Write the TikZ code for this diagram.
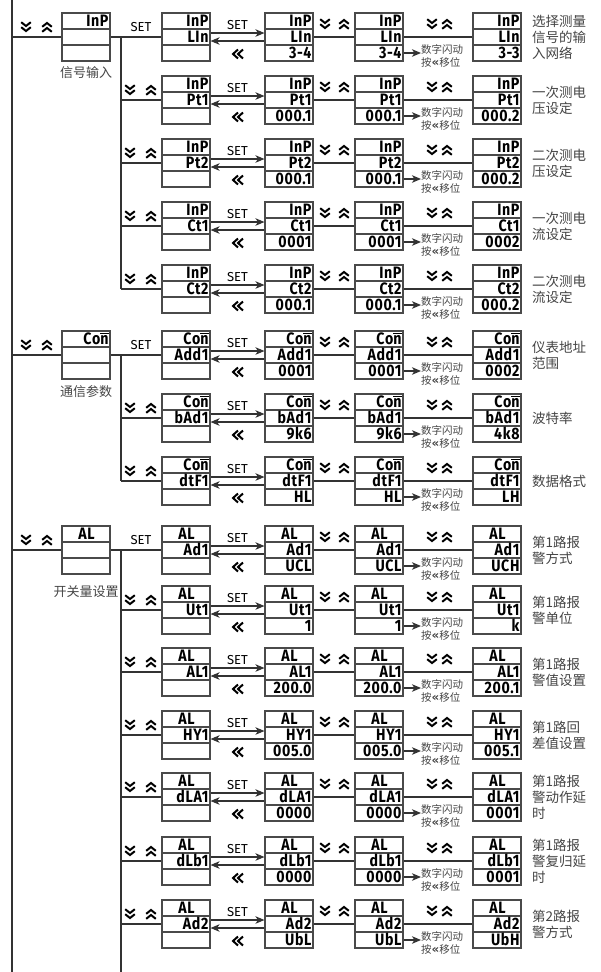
\documentclass[tikz,border=0pt]{standalone}
\usepackage{fontspec}
\setmainfont{Fira Sans}
\newfontfamily\cjk{Noto Sans CJK SC}
\newfontfamily\djv{DejaVu Sans}
\newfontfamily\segfont[FakeStretch=0.86,LetterSpace=4]{Fira Sans}
\usetikzlibrary{arrows.meta}
\definecolor{boxgray}{HTML}{4A4A4A}
\definecolor{linegray}{HTML}{333333}
\definecolor{txtgray}{HTML}{444444}
\newcommand\mbarn{\mbox{\setbox0\hbox{n}\rlap{\raisebox{\dimexpr\ht0+1.4pt\relax}{\rule{\wd0}{1.5pt}}}\box0}}
\newcommand\ALtxt{\makebox[44pt]{AL}}
\tikzset{
  cell/.style={draw=boxgray, line width=1.1pt, fill=white, minimum width=48pt, minimum height=16pt,
    inner sep=0pt, text width=45pt, align=right, text height=11.5pt, text depth=0pt,
    font=\segfont\bfseries\fontsize{16.5}{16}\selectfont},
  conn/.style={draw=linegray, line width=1.1pt},
  tip/.style={-{Stealth[length=9pt,width=7.5pt,inset=2.5pt]}},
  chev/.style={draw=black, line width=2pt, line cap=butt, line join=miter},
  dchev/.pic={\draw[chev] (-4.8,-4.8)--(0,-1)--(4.8,-4.8) (-4.8,0.2)--(0,4)--(4.8,0.2);},
  uchev/.pic={\draw[chev] (-4.8,4.8)--(0,1)--(4.8,4.8) (-4.8,-0.2)--(0,-4)--(4.8,-0.2);},
  lchev/.pic={\draw[chev] (0.5,-4.5)--(-4.5,0)--(0.5,4.5) (5.5,-4.5)--(0.5,0)--(5.5,4.5);},
  setlbl/.style={inner sep=0pt, font=\fontsize{13}{14}\selectfont, text=black},
  hint/.style={anchor=west, align=left, inner sep=0pt, text=txtgray, font=\cjk\fontsize{10.5}{13}\selectfont},
  lbl/.style={anchor=west, align=left, inner sep=0pt, text=txtgray, font=\cjk\fontsize{13.5}{16}\selectfont},
  glbl/.style={inner sep=0pt, text=txtgray, font=\cjk\fontsize{13}{16}\selectfont},
}
% one display: name, centre x, top y, three texts
\newcommand\lcd[6]{%
  \node[cell] (#1a) at (#2,#3+8) {#4};
  \node[cell] (#1b) at (#2,#3+24) {#5};
  \node[cell] (#1c) at (#2,#3+40) {#6};}
% left part of a sub row
\newcommand\lset[2]{\node[setlbl] (#2lset) at (141,#1+14) {SET};}
\newcommand\lchv[2]{%
  \pic at (130,#1+14) {dchev}; \pic at (151,#1+14) {uchev};
  \draw[conn] (#2j) -- (#2pb.west);}
% sub row: id, top, head, code, value, new value, label, left part
\newcommand\subrow[8]{%
  \lcd{#1p}{186}{#2}{#3}{#4}{}
  \lcd{#1q}{289}{#2}{#3}{#4}{#5}
  \lcd{#1r}{379}{#2}{#3}{#4}{#5}
  \lcd{#1s}{497}{#2}{#3}{#4}{#6}
  \coordinate (#1j) at (121,#2+24);
  #8{#2}{#1}
  \draw[conn,tip] ([yshift=4pt]#1pb.east) -- ([yshift=4pt]#1qb.west);
  \draw[conn,tip] ([yshift=-4pt]#1qb.west) -- ([yshift=-4pt]#1pb.east);
  \node[setlbl] (#1set) at (237.5,#2+12) {SET};
  \pic at (237.5,#2+41) {lchev};
  \draw[conn] (#1qb.east) -- (#1rb.west);
  \pic at (325,#2+11) {dchev}; \pic at (344,#2+11) {uchev};
  \draw[conn] (#1rb.east) -- (#1sb.west);
  \pic at (432,#2+11) {dchev}; \pic at (447,#2+11) {uchev};
  \node[hint] (#1hint) at (421,#2+42.5) {数字闪动\\按{\djv\bfseries\fontsize{12}{13}\selectfont «}移位};
  \draw[conn,tip] (#1rc.east) -- (#1rc.east -| #1hint.west);
  \node[lbl] (#1lbl) at (532,#2+24) {#7};
}
% top level: id, top, head, label, label y
\newcommand\group[5]{%
  \lcd{#1}{86}{#2}{#3}{}{}
  \pic at (26,#2+14) {dchev}; \pic at (47,#2+14) {uchev};
  \coordinate (#1m) at (12,#2+24);
  \draw[conn] (#1m) -- (#1b.west);
  \node[glbl] (#1lbl) at (86,#5) {#4};
}
\begin{document}
\begin{tikzpicture}[x=1pt,y=-1pt]
\useasboundingbox (0,0) rectangle (600,972);
\coordinate (mtop) at (12,0);
\coordinate (mbot) at (12,972);
\draw[conn] (mtop) -- (mbot);

% ---------- signal input
\group{gi}{13}{InP}{信号输入}{72.5}
\subrow{ia}{13}{InP}{LIn}{3-4}{3-3}{选择测量\\信号的输\\入网络}{\lset}
\subrow{ib}{76}{InP}{Pt1}{000.1}{000.2}{一次测电\\压设定}{\lchv}
\subrow{ic}{139}{InP}{Pt2}{000.1}{000.2}{二次测电\\压设定}{\lchv}
\subrow{id}{202}{InP}{Ct1}{0001}{0002}{一次测电\\流设定}{\lchv}
\subrow{ie}{265}{InP}{Ct2}{000.1}{000.2}{二次测电\\流设定}{\lchv}
\draw[conn] (gib.east) -- (iapb.west);
\draw[conn] (iaj) -- (iej);

% ---------- communication
\group{gc}{331}{Co\mbarn}{通信参数}{391.5}
\subrow{ca}{331}{Co\mbarn}{Add1}{0001}{0002}{仪表地址\\范围}{\lset}
\subrow{cb}{394}{Co\mbarn}{bAd1}{9k6}{4k8}{波特率}{\lchv}
\subrow{cc}{457}{Co\mbarn}{dtF1}{HL}{LH}{数据格式}{\lchv}
\draw[conn] (gcb.east) -- (capb.west);
\draw[conn] (caj) -- (ccj);

% ---------- alarm
\group{ga}{526}{\ALtxt}{开关量设置}{592}
\subrow{aa}{526}{\ALtxt}{Ad1}{UCL}{UCH}{第1路报\\警方式}{\lset}
\subrow{ab}{586}{\ALtxt}{Ut1}{1\hspace{16pt}}{k\hspace{8pt}}{第1路报\\警单位}{\lchv}
\subrow{ac}{648}{\ALtxt}{AL1}{200.0}{200.1}{第1路报\\警值设置}{\lchv}
\subrow{ad}{711}{\ALtxt}{HY1}{005.0}{005.1}{第1路回\\差值设置}{\lchv}
\subrow{ae}{773}{\ALtxt}{dLA1}{0000}{0001}{第1路报\\警动作延\\时}{\lchv}
\subrow{af}{837}{\ALtxt}{dLb1}{0000}{0001}{第1路报\\警复归延\\时}{\lchv}
\subrow{ag}{900}{\ALtxt}{Ad2}{UbL}{UbH}{第2路报\\警方式}{\lchv}
\coordinate (abot) at (121,972);
\draw[conn] (gab.east) -- (aapb.west);
\draw[conn] (aaj) -- (abot);
\end{tikzpicture}
\end{document}
